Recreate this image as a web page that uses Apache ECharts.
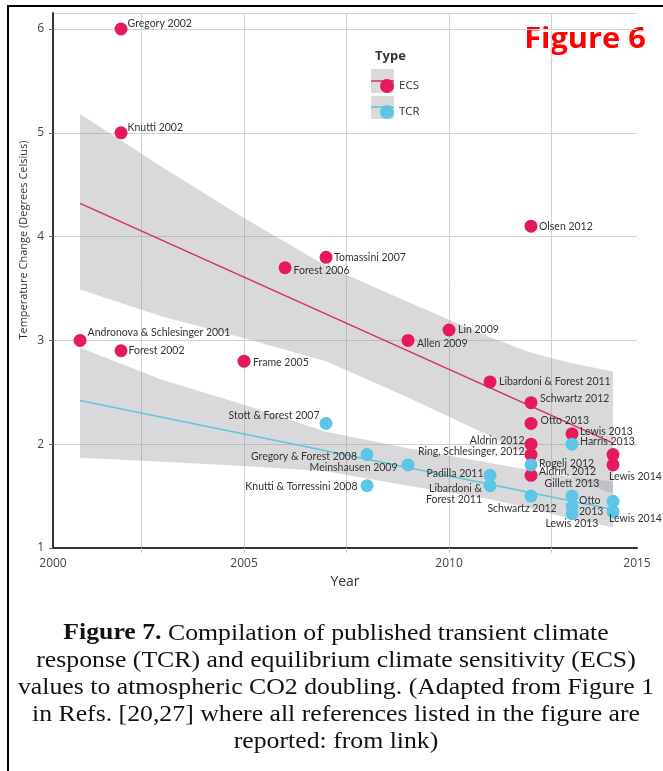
<!DOCTYPE html>
<html>
<head>
<meta charset="utf-8">
<script src="https://cdn.jsdelivr.net/npm/echarts@6/dist/echarts.min.js"></script>
<style>
  html, body { margin: 0; padding: 0; background: #fff; }
  #chart { width: 663px; height: 771px; }
</style>
</head>
<body>
<div id="chart"></div>
<script>
// ---- Equilibrium climate sensitivity (ECS) estimates ----
const ecsNames = [
  'Gregory 2002', 'Knutti 2002', 'Andronova & Schlesinger 2001', 'Forest 2002',
  'Frame 2005', 'Forest 2006', 'Tomassini 2007', 'Allen 2009', 'Lin 2009',
  'Libardoni & Forest 2011', 'Olsen 2012', 'Schwartz 2012', 'Otto 2013',
  'Aldrin 2012', 'Ring, Schlesinger, 2012', 'Aldrin, 2012', 'Lewis 2013',
  'Lewis 2014', 'Lewis 2014'
];
const ecsYears = [2002, 2002, 2001, 2002, 2005, 2006, 2007, 2009, 2010, 2011, 2012, 2012, 2012, 2012, 2012, 2012, 2013, 2014, 2014];
const ecsValues = [6.0, 5.0, 3.0, 2.9, 2.8, 3.7, 3.8, 3.0, 3.1, 2.6, 4.1, 2.4, 2.2, 2.0, 1.9, 1.7, 2.1, 1.9, 1.8];

// ---- Transient climate response (TCR) estimates ----
const tcrNames = [
  'Stott & Forest 2007', 'Gregory & Forest 2008', 'Knutti & Torressini 2008',
  'Meinshausen 2009', 'Padilla 2011', 'Libardoni &\nForest 2011', 'Rogelj 2012',
  'Schwartz 2012', 'Harris 2013', 'Gillett 2013', 'Otto\n2013', 'Lewis 2013',
  'Lewis 2014', 'Lewis 2014'
];
const tcrYears = [2007, 2008, 2008, 2009, 2011, 2011, 2012, 2012, 2013, 2013, 2013, 2013, 2014, 2014];
const tcrValues = [2.2, 1.9, 1.6, 1.8, 1.7, 1.6, 1.8, 1.5, 2.0, 1.5, 1.4, 1.33, 1.45, 1.35];

// ---- Linear trend lines ----
const fitYears = [2001, 2014];
const ecsFit = [4.32, 2.01];
const tcrFit = [2.42, 1.37];

// ---- Confidence bands around the trends ----
const bandYears = [2001, 2003, 2005, 2007, 2009, 2011, 2012, 2013, 2014];
const ecsUpper = [5.18, 4.67, 4.18, 3.72, 3.37, 3.03, 2.88, 2.78, 2.70];
const ecsLower = [3.49, 3.23, 3.02, 2.80, 2.45, 2.08, 1.87, 1.68, 1.52];
const tcrUpper = [2.93, 2.62, 2.38, 2.12, 1.96, 1.82, 1.75, 1.68, 1.64];
const tcrLower = [1.87, 1.83, 1.79, 1.74, 1.60, 1.47, 1.38, 1.28, 1.20];

// ---- Axes ----
const xMin = 2000.34, xMax = 2014.585;
const xLabelValues = [2000.34, 2005, 2010, 2014.585];
const xTickLabels = ['2000', '2005', '2010', '2015'];
const xGridValues = [2002.5, 2005, 2007.5, 2010, 2012.5];
const yMin = 1, yMax = 6.154;

const ECS_COLOR = '#e6195c';
const TCR_COLOR = '#5cc6e6';
const FONT = 'Lato, "Open Sans", sans-serif';
const AXIS_FONT = '"Open Sans", sans-serif';

// Per-point label placement: [position, distance, dx, dy, align]
const ecsLabelLayout = [
  ['right', 0, 0, -5], ['right', 0, 0, -5], ['right', 1, 0, -8], ['right', 1, 0, 0],
  ['right', 2.5, 0, 1], ['right', 2, 0, 3], ['right', 1.5, 0, 0], ['right', 2.5, 0, 3],
  ['right', 2.5, 0, 0], ['right', 2.5, 0, 0], ['right', 1.5, 0, 0], ['right', 2.5, 0, -4],
  ['right', 3, 0, -3], ['left', 0, 0, -4], ['left', 0, 0, -3], ['right', 1.5, 0, -4],
  ['right', 1.5, 0, -2], null, ['bottom', 0, -4, 0, 'left']
];
const tcrLabelLayout = [
  ['left', 0, 0, -8], ['left', 3.5, 0, 2], ['left', 3, 0, 1], ['left', 4, 0, 3],
  ['left', 0, 0, -2], ['left', 1.5, 0, 8], ['right', 1.5, 0, -1], ['bottom', 0, -9, 1],
  ['right', 1.5, 0, -3], ['top', 0, 0, 0], ['right', 0.5, 0, 0], ['bottom', 0, 0, -2],
  null, ['bottom', 0, -4, -5, 'left']
];

function pointData(names, years, values, layout) {
  return names.map((n, i) => {
    const l = layout[i];
    const label = l ? {
      show: true, position: l[0], distance: l[1], offset: [l[2], l[3]]
    } : { show: false };
    if (l && l[4]) label.align = l[4];
    return { name: n, value: [years[i], values[i]], label };
  });
}

function bandSeries(years, upper, lower) {
  return {
    type: 'custom', silent: true, z: 1, data: [0],
    renderItem(params, api) {
      const pts = [];
      years.forEach((y, i) => pts.push(api.coord([y, upper[i]])));
      for (let i = years.length - 1; i >= 0; i--) pts.push(api.coord([years[i], lower[i]]));
      return { type: 'polygon', shape: { points: pts }, style: { fill: 'rgba(140,140,150,0.33)' } };
    }
  };
}

const labelStyle = {
  formatter: '{b}', color: '#333', fontSize: 10.5, fontFamily: FONT, lineHeight: 11
};

const chart = echarts.init(document.getElementById('chart'), null, { renderer: 'canvas' });
chart.setOption({
  animation: false,
  backgroundColor: '#fff',
  grid: { left: 53, right: 26, top: 13, bottom: 223 },
  xAxis: {
    type: 'value', min: xMin, max: xMax,
    name: 'Year', nameLocation: 'middle', nameGap: 22,
    nameTextStyle: { fontFamily: AXIS_FONT, fontSize: 14, color: '#333' },
    axisLine: { show: true, lineStyle: { color: '#333', width: 2 } },
    axisTick: { show: true, customValues: xGridValues, length: 5, lineStyle: { color: '#cfcfcf' } },
    splitLine: { show: true, lineStyle: { color: '#d2d2d2', width: 1 } },
    axisLabel: {
      customValues: xLabelValues, margin: 10, fontFamily: AXIS_FONT, fontSize: 12, color: '#444',
      formatter: v => {
        let best = 0;
        xLabelValues.forEach((t, i) => { if (Math.abs(t - v) < Math.abs(xLabelValues[best] - v)) best = i; });
        return xTickLabels[best];
      }
    }
  },
  yAxis: {
    type: 'value', min: yMin, max: yMax, interval: 1,
    axisLine: { show: true, lineStyle: { color: '#333', width: 2 } },
    axisTick: { show: true, length: 4, lineStyle: { color: '#666' } },
    splitLine: { show: true, lineStyle: { color: '#d2d2d2', width: 1 } },
    axisLabel: { margin: 9, fontFamily: AXIS_FONT, fontSize: 12, color: '#444', showMaxLabel: false }
  },
  legend: {
    data: ['ECS', 'TCR'], orient: 'vertical', left: 375, top: 74,
    itemWidth: 14, itemHeight: 14, itemGap: 12, icon: 'circle', selectedMode: false,
    textStyle: { fontFamily: AXIS_FONT, fontSize: 11.5, color: '#333' }
  },
  series: [
    bandSeries(bandYears, ecsUpper, ecsLower),
    bandSeries(bandYears, tcrUpper, tcrLower),
    {
      type: 'line', name: 'ECS trend', silent: true, symbol: 'none', z: 2,
      data: fitYears.map((y, i) => [y, ecsFit[i]]),
      lineStyle: { color: '#d3305f', width: 1.5 }
    },
    {
      type: 'line', name: 'TCR trend', silent: true, symbol: 'none', z: 2,
      data: fitYears.map((y, i) => [y, tcrFit[i]]),
      lineStyle: { color: '#62c3df', width: 1.5 }
    },
    {
      type: 'scatter', name: 'ECS', z: 3, symbolSize: 13,
      itemStyle: { color: ECS_COLOR, opacity: 1 },
      label: labelStyle,
      data: pointData(ecsNames, ecsYears, ecsValues, ecsLabelLayout)
    },
    {
      type: 'scatter', name: 'TCR', z: 3, symbolSize: 13,
      itemStyle: { color: TCR_COLOR, opacity: 1 },
      label: labelStyle,
      data: pointData(tcrNames, tcrYears, tcrValues, tcrLabelLayout)
    }
  ],
  graphic: [
    // frame edges
    { type: 'line', shape: { x1: 8, y1: 6, x2: 8, y2: 771 }, style: { stroke: '#000', lineWidth: 2 } },
    { type: 'line', shape: { x1: 7, y1: 6, x2: 663, y2: 6 }, style: { stroke: '#000', lineWidth: 2 } },
    // legend swatches
    { type: 'rect', z: 1, shape: { x: 371, y: 69, width: 23, height: 24 }, style: { fill: '#dadada' } },
    { type: 'rect', z: 1, shape: { x: 371, y: 96, width: 23, height: 23 }, style: { fill: '#dadada' } },
    { type: 'line', z: 2, shape: { x1: 371, y1: 81, x2: 394, y2: 81 }, style: { stroke: '#d3305f', lineWidth: 1.5 } },
    { type: 'line', z: 2, shape: { x1: 371, y1: 107, x2: 394, y2: 107 }, style: { stroke: '#62c3df', lineWidth: 1.5 } },
    {
      type: 'text', x: 375, y: 56,
      style: { text: 'Type', font: 'bold 13px ' + AXIS_FONT, fill: '#333', verticalAlign: 'middle' }
    },
    {
      type: 'text', x: 585, y: 40, scaleX: 1.1,
      style: { text: 'Figure 6', font: 'bold 28px "Open Sans", sans-serif', fill: '#ff0000', align: 'center', verticalAlign: 'middle' }
    },
    {
      type: 'text', x: 24, y: 240, rotation: Math.PI / 2,
      style: { text: 'Temperature Change (Degrees Celsius)', font: '11px ' + AXIS_FONT, fill: '#333', align: 'center', verticalAlign: 'middle' }
    },
    {
      type: 'text', x: 336, y: 620, scaleX: 1.12,
      style: {
        text: '{b|Figure 7.} Compilation of published transient climate\nresponse (TCR) and equilibrium climate sensitivity (ECS)\nvalues to atmospheric CO2 doubling. (Adapted from Figure 1\nin Refs. [20,27] where all references listed in the figure are\nreported: from link)',
        font: '23px "Liberation Serif", "Times New Roman", serif', fill: '#111',
        align: 'center', verticalAlign: 'top', lineHeight: 27,
        rich: { b: { font: 'bold 23px "Liberation Serif", "Times New Roman", serif', fill: '#111' } }
      }
    }
  ]
});
</script>
</body>
</html>
